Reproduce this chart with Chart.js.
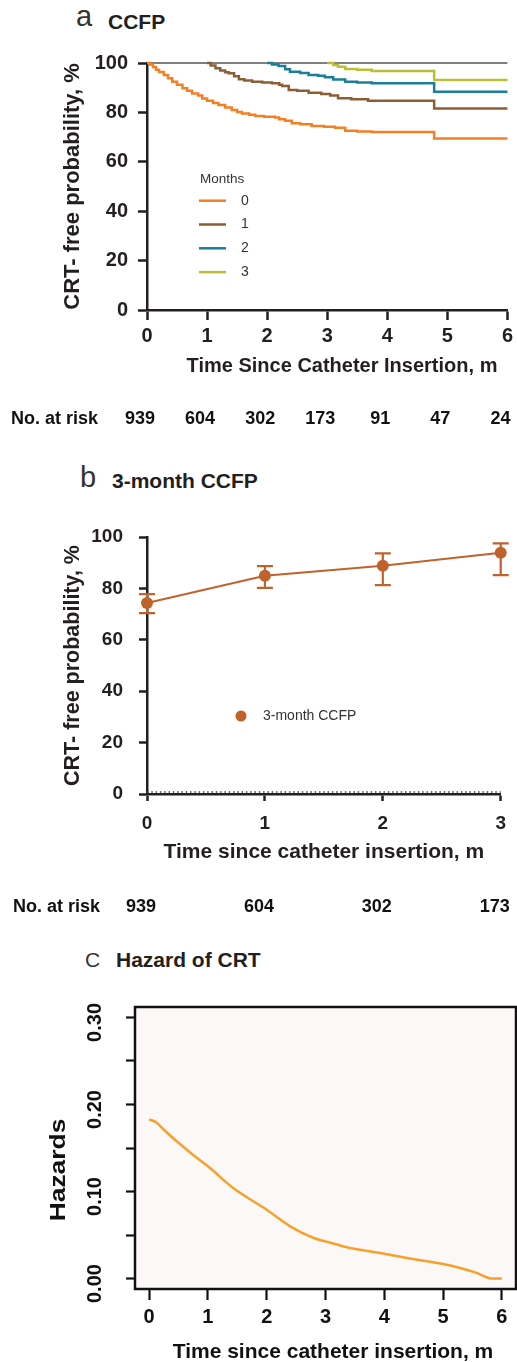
<!DOCTYPE html>
<html>
<head>
<meta charset="utf-8">
<script src="https://cdn.jsdelivr.net/npm/chart.js@4/dist/chart.umd.min.js"></script>
<style>
  html, body { margin: 0; padding: 0; background: #ffffff; }
  body { position: relative; width: 517px; height: 1362px; overflow: hidden;
         font-family: "Liberation Sans", Arial, Helvetica, sans-serif; color: #231f20; }
  .panel { position: absolute; left: 0; width: 517px; }
  .ttl { position: absolute; white-space: nowrap; line-height: 1; }
  .light { font-weight: normal; color: #333333; }
  .heavy { font-weight: bold; color: #231f20; }
</style>
</head>
<body>

<div class="ttl light" style="left:76px; top:2px; font-size:29px;">a</div>
<div class="ttl heavy" style="left:108px; top:11px; font-size:21px;">CCFP</div>

<div class="ttl light" style="left:80px; top:463px; font-size:29px;">b</div>
<div class="ttl heavy" style="left:112px; top:470px; font-size:21px;">3-month CCFP</div>

<div class="ttl light" style="left:85px; top:949px; font-size:21px;">C</div>
<div class="ttl heavy" style="left:116px; top:949px; font-size:21px;">Hazard of CRT</div>

<div class="panel" style="top:0px; height:440px;"><canvas id="chartA"></canvas></div>
<div class="panel" style="top:440px; height:480px;"><canvas id="chartB"></canvas></div>
<div class="panel" style="top:920px; height:442px;"><canvas id="chartC"></canvas></div>

<script>
// ---------- Panel a: Kaplan-Meier CCFP by landmark month ----------
const monthTicksA = [0, 1, 2, 3, 4, 5, 6];
const riskA = [939, 604, 302, 173, 91, 47, 24];
const seriesLabelsA = ['0', '1', '2', '3'];

const timeM0 = [0, 0.05, 0.1, 0.15, 0.2, 0.28, 0.35, 0.42, 0.5, 0.59, 0.67, 0.75, 0.85, 0.92, 1.0,
                1.1, 1.19, 1.3, 1.41, 1.5, 1.58, 1.7, 1.8, 1.95, 2.13, 2.2, 2.3, 2.41, 2.55, 2.74,
                2.95, 3.13, 3.3, 3.5, 3.74, 4.78, 6.0];
const survM0 = [100, 99.4, 98.4, 97.3, 96.4, 95.1, 93.8, 92.4, 91.2, 89.8, 88.8, 87.7, 86.8, 85.6, 84.7,
                83.8, 83.0, 82.0, 81.0, 80.2, 79.6, 79.0, 78.5, 78.2, 77.9, 77.2, 76.6, 75.6, 75.2, 74.5,
                74.2, 73.8, 72.6, 72.3, 72.1, 69.4, 69.4];

const timeM1 = [1.0, 1.06, 1.14, 1.22, 1.3, 1.36, 1.45, 1.53, 1.62, 1.75, 1.92, 2.08, 2.2, 2.25, 2.36,
                2.5, 2.69, 2.9, 3.05, 3.18, 3.4, 3.68, 4.78, 6.0];
const survM1 = [100, 99.0, 97.9, 97.0, 96.3, 95.8, 94.6, 93.4, 92.9, 92.4, 92.1, 91.8, 91.2, 90.7, 89.1,
                88.8, 88.0, 87.4, 86.8, 85.7, 85.3, 84.7, 81.6, 81.6];

const timeM2 = [2.0, 2.08, 2.19, 2.3, 2.38, 2.55, 2.69, 2.85, 2.96, 3.1, 3.3, 3.5, 3.74, 4.78, 6.0];
const survM2 = [100, 99.4, 98.8, 97.5, 96.5, 96.0, 95.1, 94.8, 94.2, 93.3, 92.4, 92.1, 91.8, 88.4, 88.4];

const timeM3 = [3.0, 3.1, 3.18, 3.3, 3.5, 3.74, 4.78, 6.0];
const survM3 = [100, 99.2, 98.5, 97.6, 97.3, 96.8, 93.1, 93.1];

const refTime = [0, 6];
const refLevel = [100, 100];

// ---------- Panel b: 3-month CCFP by landmark ----------
const monthsB = [0, 1, 2, 3];
const ccfpB = [74.3, 84.9, 88.8, 93.9];
const ciLowB = [70.4, 80.2, 81.3, 85.2];
const ciHighB = [77.8, 88.7, 93.6, 97.5];
const riskB = [939, 604, 302, 173];

// ---------- Panel c: smoothed hazard ----------
const hazTicksX = [0, 1, 2, 3, 4, 5, 6];
const hazTicksY = [0, 0.05, 0.10, 0.15, 0.20, 0.25, 0.30];
const hazLabelsY = ['0.00', '', '0.10', '', '0.20', '', '0.30'];
const hazTime = [0, 0.13, 0.25, 0.5, 0.75, 1.0, 1.43, 2.0, 2.4, 2.8, 3.0, 3.42, 4.0, 4.38, 5.0, 5.29, 5.57, 5.83, 6.0];
const hazValue = [0.183, 0.179, 0.171, 0.156, 0.142, 0.129, 0.104, 0.079, 0.060, 0.0466, 0.0427, 0.035,
                  0.0286, 0.0237, 0.0168, 0.0122, 0.0065, 0.0, 0.0];

// ---------- styling ----------
const FONT = '"Liberation Sans", Arial, Helvetica, sans-serif';
const INK = '#231f20';
const colorsA = ['#f47f24', '#8b5e34', '#1b7f97', '#bcbf35'];
const colorB = '#c0622c';
const colorC = '#f7a12a';

Chart.defaults.font.family = FONT;
Chart.defaults.color = INK;

const toXY = (xs, ys) => xs.map((x, i) => ({ x: x, y: ys[i] }));
const setTicks = vals => s => { s.ticks = vals.map(v => ({ value: v })); };

function axisBase(tickLength) {
  return {
    border: { display: true, color: INK, width: 2.5 },
    grid: { display: true, drawOnChartArea: false, drawTicks: true, tickLength: tickLength,
            tickColor: INK, tickWidth: 2.5 }
  };
}

// legend and x-axis title for panel a
const legendA = {
  id: 'legendA',
  afterDatasetsDraw(chart) {
    const { ctx, chartArea } = chart;
    const x0 = chartArea.left + 52;
    const y0 = chartArea.top + 120;
    ctx.save();
    ctx.fillStyle = '#333333';
    ctx.font = '13.5px ' + FONT;
    ctx.textAlign = 'left';
    ctx.textBaseline = 'alphabetic';
    ctx.fillText('Months', x0 + 1, y0);
    seriesLabelsA.forEach((lab, i) => {
      const y = y0 + 17.7 + i * 23.8;
      ctx.strokeStyle = colorsA[i];
      ctx.lineWidth = 2.5;
      ctx.beginPath();
      ctx.moveTo(x0, y);
      ctx.lineTo(x0 + 27, y);
      ctx.stroke();
      ctx.font = '14px ' + FONT;
      ctx.textBaseline = 'middle';
      ctx.fillText(lab, x0 + 42, y);
      ctx.textBaseline = 'alphabetic';
    });
    ctx.restore();
  },
  afterDraw(chart) {
    const { ctx } = chart;
    ctx.save();
    ctx.fillStyle = INK;
    ctx.font = 'bold 20px ' + FONT;
    ctx.textAlign = 'center';
    ctx.textBaseline = 'middle';
    ctx.fillText('Time Since Catheter Insertion, m', 342, 366);
    ctx.restore();
  }
};

// number-at-risk row under a time axis
function riskRow(id, times, counts, baseline, labelX, shift) {
  return {
    id: id,
    afterDraw(chart) {
      const { ctx } = chart;
      const xs = chart.scales.x;
      ctx.save();
      ctx.fillStyle = '#111111';
      ctx.font = 'bold 18px ' + FONT;
      ctx.textBaseline = 'alphabetic';
      ctx.textAlign = 'left';
      ctx.fillText('No. at risk', labelX, baseline);
      ctx.textAlign = 'center';
      counts.forEach((n, i) => {
        ctx.fillText(String(n), xs.getPixelForValue(times[i]) + shift, baseline);
      });
      ctx.restore();
    }
  };
}

new Chart(document.getElementById('chartA'), {
  type: 'line',
  data: {
    datasets: [
      { label: seriesLabelsA[0], data: toXY(timeM0, survM0), borderColor: colorsA[0] },
      { label: seriesLabelsA[1], data: toXY(timeM1, survM1), borderColor: colorsA[1] },
      { label: seriesLabelsA[2], data: toXY(timeM2, survM2), borderColor: colorsA[2] },
      { label: seriesLabelsA[3], data: toXY(timeM3, survM3), borderColor: colorsA[3] },
      { label: 'ref', data: toXY(refTime, refLevel), borderColor: '#555555', borderWidth: 1.3, stepped: false }
    ]
  },
  options: {
    responsive: true, maintainAspectRatio: false, animation: false, devicePixelRatio: 1,
    layout: { padding: { left: 0, top: 63, right: 8, bottom: 50 } },
    plugins: { legend: { display: false }, tooltip: { enabled: false } },
    datasets: { line: { clip: false, stepped: true, borderWidth: 2.5, pointRadius: 0, fill: false } },
    scales: {
      x: Object.assign(axisBase(10), {
        type: 'linear', min: 0, max: 6,
        afterBuildTicks: setTicks(monthTicksA),
        afterFit: s => { s.height = 80; },
        ticks: { font: { size: 20, weight: 'bold' }, color: INK, padding: 4, maxRotation: 0 },
        title: { display: false }
      }),
      y: Object.assign(axisBase(9), {
        min: 0, max: 100,
        afterFit: s => { s.width = 147; },
        ticks: { stepSize: 20, font: { size: 20, weight: 'bold' }, color: INK, padding: 10 },
        title: { display: true, text: 'CRT- free probability, %', color: INK,
                 font: { size: 22, weight: 'bold' }, padding: { top: 60, bottom: 0 } }
      })
    }
  },
  plugins: [legendA, riskRow('riskA', monthTicksA, riskA, 424, 11, -7)]
});

// ---------- panel b ----------
const errorBarsB = {
  id: 'errorBarsB',
  beforeDatasetsDraw(chart) {
    const { ctx } = chart;
    const xs = chart.scales.x, ys = chart.scales.y;
    // dotted zero reference resting on the axis
    ctx.save();
    ctx.strokeStyle = '#444444';
    ctx.lineWidth = 1.5;
    ctx.setLineDash([1.5, 2.8]);
    const yz = ys.getPixelForValue(0) - 2;
    ctx.beginPath();
    ctx.moveTo(xs.getPixelForValue(0), yz);
    ctx.lineTo(xs.getPixelForValue(3), yz);
    ctx.stroke();
    ctx.restore();
  },
  afterDatasetsDraw(chart) {
    const { ctx } = chart;
    const xs = chart.scales.x, ys = chart.scales.y;
    ctx.save();
    ctx.strokeStyle = colorB;
    ctx.lineWidth = 2.2;
    monthsB.forEach((m, i) => {
      const x = xs.getPixelForValue(m);
      const lo = ys.getPixelForValue(ciLowB[i]);
      const hi = ys.getPixelForValue(ciHighB[i]);
      ctx.beginPath();
      ctx.moveTo(x, lo); ctx.lineTo(x, hi);
      ctx.moveTo(x - 8, lo); ctx.lineTo(x + 8, lo);
      ctx.moveTo(x - 8, hi); ctx.lineTo(x + 8, hi);
      ctx.stroke();
    });
    // legend entry
    const ca = chart.chartArea;
    const lx = ca.left + 94, ly = ca.top + 179;
    ctx.fillStyle = colorB;
    ctx.beginPath();
    ctx.arc(lx, ly, 5.5, 0, Math.PI * 2);
    ctx.fill();
    ctx.fillStyle = '#333333';
    ctx.font = '14px ' + FONT;
    ctx.textAlign = 'left';
    ctx.textBaseline = 'middle';
    ctx.fillText('3-month CCFP', lx + 22, ly);
    ctx.restore();
  }
};

new Chart(document.getElementById('chartB'), {
  type: 'line',
  data: {
    datasets: [{
      label: '3-month CCFP', data: toXY(monthsB, ccfpB),
      borderColor: colorB, backgroundColor: colorB, pointBackgroundColor: colorB,
      pointBorderWidth: 0, pointRadius: 6, borderWidth: 2, clip: false, tension: 0
    }]
  },
  options: {
    responsive: true, maintainAspectRatio: false, animation: false, devicePixelRatio: 1,
    layout: { padding: { left: 0, top: 97, right: 15, bottom: 46 } },
    plugins: { legend: { display: false }, tooltip: { enabled: false } },
    scales: {
      x: Object.assign(axisBase(7), {
        type: 'linear', min: 0, max: 3,
        afterBuildTicks: setTicks(monthsB),
        afterFit: s => { s.height = 80; },
        ticks: { font: { size: 19, weight: 'bold' }, color: INK, padding: 11, maxRotation: 0 },
        title: { display: true, text: 'Time since catheter insertion, m', color: INK,
                 font: { size: 21, weight: 'bold' }, padding: { top: 0, bottom: 9 } }
      }),
      y: Object.assign(axisBase(8), {
        min: 0, max: 100,
        afterFit: s => { s.width = 147; },
        ticks: { stepSize: 20, font: { size: 19, weight: 'bold' }, color: INK, padding: 16 },
        title: { display: true, text: 'CRT- free probability, %', color: INK,
                 font: { size: 21.5, weight: 'bold' }, padding: { top: 60, bottom: 0 } }
      })
    }
  },
  plugins: [errorBarsB, riskRow('riskB', monthsB, riskB, 472, 13, -6)]
});

// ---------- panel c ----------
const frameC = {
  id: 'frameC',
  beforeDatasetsDraw(chart) {
    const { ctx, chartArea: a } = chart;
    ctx.save();
    ctx.fillStyle = '#fdf8f8';
    ctx.fillRect(a.left, a.top, a.right - a.left, a.bottom - a.top);
    ctx.restore();
  },
  afterDraw(chart) {
    const { ctx, chartArea: a } = chart;
    const ys = chart.scales.y;
    ctx.save();
    ctx.strokeStyle = '#111111';
    ctx.lineWidth = 2.5;
    ctx.strokeRect(a.left, a.top, a.right - a.left, a.bottom - a.top);

    // rotated y tick labels
    ctx.fillStyle = '#111111';
    ctx.font = 'bold 20px ' + FONT;
    ctx.textAlign = 'center';
    ctx.textBaseline = 'middle';
    hazTicksY.forEach((v, i) => {
      if (!hazLabelsY[i]) return;
      ctx.save();
      ctx.translate(95.5, ys.getPixelForValue(v) + 5);
      ctx.rotate(-Math.PI / 2);
      ctx.fillText(hazLabelsY[i], 0, 0);
      ctx.restore();
    });

    // y axis title
    ctx.save();
    ctx.font = 'bold 22px ' + FONT;
    ctx.translate(59, 250);
    ctx.rotate(-Math.PI / 2);
    ctx.scale(1.2, 1);
    ctx.fillText('Hazards', 0, 0);
    ctx.restore();

    // x axis title
    ctx.font = 'bold 21px ' + FONT;
    ctx.textBaseline = 'alphabetic';
    ctx.fillText('Time since catheter insertion, m', 333, 438);
    ctx.restore();
  }
};

new Chart(document.getElementById('chartC'), {
  type: 'line',
  data: {
    datasets: [{
      label: 'Hazards', data: toXY(hazTime, hazValue),
      borderColor: colorC, borderWidth: 2.5, pointRadius: 0,
      cubicInterpolationMode: 'monotone', fill: false
    }]
  },
  options: {
    responsive: true, maintainAspectRatio: false, animation: false, devicePixelRatio: 1,
    layout: { padding: { left: 0, top: 87, right: 1, bottom: 0 } },
    plugins: { legend: { display: false }, tooltip: { enabled: false } },
    scales: {
      x: {
        type: 'linear', min: -0.24, max: 6.24,
        afterBuildTicks: setTicks(hazTicksX),
        afterFit: s => { s.height = 73; },
        border: { display: false },
        grid: { display: true, drawOnChartArea: false, drawTicks: true, tickLength: 11,
                tickColor: '#111111', tickWidth: 2.2 },
        ticks: { font: { size: 20, weight: 'bold' }, color: '#111111', padding: 5, maxRotation: 0 }
      },
      y: {
        min: -0.012, max: 0.312,
        afterBuildTicks: setTicks(hazTicksY),
        afterFit: s => { s.width = 135; },
        border: { display: false },
        grid: { display: true, drawOnChartArea: false, drawTicks: true, tickLength: 9,
                tickColor: '#111111', tickWidth: 2.2 },
        ticks: { display: false }
      }
    }
  },
  plugins: [frameC]
});
</script>
</body>
</html>
